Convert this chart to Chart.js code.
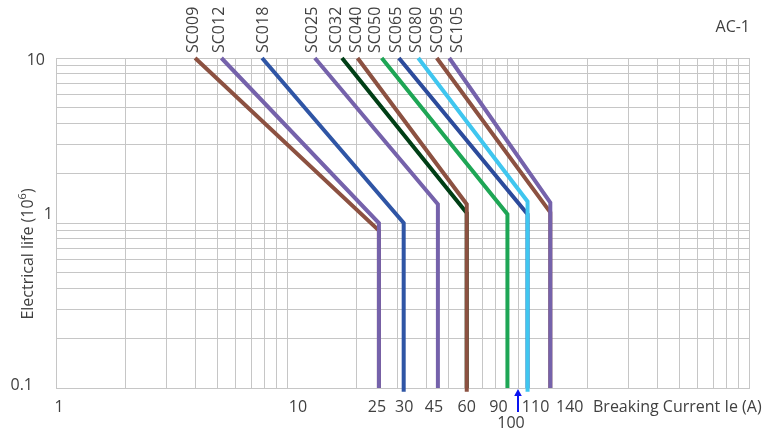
<!DOCTYPE html>
<html><head><meta charset="utf-8">
<script src="https://cdn.jsdelivr.net/npm/chart.js@4/dist/chart.umd.min.js"></script>
<style>html,body{margin:0;padding:0;background:#fff}canvas{display:block}</style>
</head><body>
<canvas id="c" width="782" height="432"></canvas>
<script>
// ---- data ----
const seriesNames = ['SC009','SC012','SC018','SC025','SC032','SC040','SC050','SC065','SC080','SC095','SC105'];
const startCurrent = [4.0, 5.2, 7.8, 13.2, 17.3, 20.2, 25.7, 30.5, 37.0, 44.5, 50.4];
const startLife    = [10, 10, 10, 10, 10, 10, 10, 10, 10, 10, 10];
const kneeCurrent  = [25, 25, 32, 45, 60, 60, 90, 110, 110, 138, 138];
const kneeLife     = [0.9, 1.0, 1.0, 1.3, 1.15, 1.3, 1.13, 1.13, 1.35, 1.16, 1.33];
const endLife      = [0.1, 0.1, 0.095, 0.1, 0.1, 0.095, 0.1, 0.1, 0.095, 0.1, 0.1];
const xTickValues  = [1, 10, 25, 30, 45, 60, 90, 110, 140];
const xTickLabels  = ['1','10','25','30','45','60','90','110','140'];
const yTickValues  = [10, 1, 0.1];
const yTickLabels  = ['10','1','0.1'];
const markerValue  = 100;
const markerLabel  = '100';
const xTitle = 'Breaking Current Ie (A)';
const yTitle = 'Electrical life (10';
const yTitleSup = '6';
const cornerTitle = 'AC-1';

// ---- styles ----
const BROWN='#8C5141', PURPLE='#7562AB', BLUE='#2F55A5', DKGREEN='#003F16', GREEN='#1EA655', DKBLUE='#2C4B9C', LTBLUE='#3FC6EF';
const seriesColors = [BROWN, PURPLE, BLUE, PURPLE, DKGREEN, BROWN, GREEN, DKBLUE, LTBLUE, BROWN, PURPLE];
const nameOffsets = [-2, -2, 1.5, -2, -6, -1, -6, -2.5, -1.5, 1, 8];
const xLabelOffsets = [3, 11, -2, 7, -4, 0, -9, 8, 18];
const yLabelStyle = [{right:45, dy:7}, {right:53, dy:-4}, {right:33, dy:2}];
const GRID = '#C6C6C6';
const TEXT = '#404040';
const FONT = '"Open Sans", "Liberation Sans", sans-serif';

function logGrid(minExp, maxExp){
  const t=[];
  for(let e=minExp;e<maxExp;e++){ for(let m=1;m<10;m++){ t.push({value:Number((m*Math.pow(10,e)).toPrecision(6))}); } }
  t.push({value:Math.pow(10,maxExp)});
  return t;
}

const datasets = seriesNames.map((name,i)=>({
  label:name,
  data:[{x:startCurrent[i],y:startLife[i]},{x:kneeCurrent[i],y:kneeLife[i]},{x:kneeCurrent[i],y:endLife[i]}],
  borderColor:seriesColors[i], backgroundColor:seriesColors[i],
  borderWidth:4, pointRadius:0, pointHoverRadius:0, showLine:true, fill:false, tension:0,
  borderCapStyle:'butt', borderJoinStyle:'miter', clip:false, order:seriesNames.length-i
}));

const textPlugin = {
  id:'textPlugin',
  afterDraw(chart){
    const ctx=chart.ctx, xs=chart.scales.x, ys=chart.scales.y, a=chart.chartArea;
    ctx.save();
    ctx.fillStyle=TEXT;
    ctx.font='16px '+FONT;
    // x tick labels
    ctx.textAlign='center'; ctx.textBaseline='alphabetic';
    xTickValues.forEach((v,i)=>{ ctx.fillText(xTickLabels[i], xs.getPixelForValue(v)+xLabelOffsets[i], a.bottom+24); });
    // x title
    ctx.textAlign='left';
    ctx.fillText(xTitle, a.right-156, a.bottom+24);
    // marker arrow + label
    const mx = Math.round(xs.getPixelForValue(markerValue));
    ctx.strokeStyle='#0A14F0'; ctx.fillStyle='#0A14F0'; ctx.lineWidth=2;
    ctx.beginPath(); ctx.moveTo(mx, a.bottom+7); ctx.lineTo(mx, a.bottom+24); ctx.stroke();
    ctx.beginPath(); ctx.moveTo(mx, a.bottom+1); ctx.lineTo(mx-3.8, a.bottom+8); ctx.lineTo(mx+3.8, a.bottom+8); ctx.closePath(); ctx.fill();
    ctx.fillStyle=TEXT; ctx.textAlign='center';
    ctx.fillText(markerLabel, mx-7, a.bottom+40);
    // y tick labels
    ctx.textAlign='right';
    yTickValues.forEach((v,i)=>{ ctx.fillText(yTickLabels[i], yLabelStyle[i].right, ys.getPixelForValue(v)+yLabelStyle[i].dy); });
    // corner title
    ctx.fillText(cornerTitle, a.right+1, 32);
    // series names (rotated, reading bottom to top, ending above the plot)
    ctx.textAlign='left'; ctx.textBaseline='middle';
    seriesNames.forEach((n,i)=>{
      const px = xs.getPixelForValue(startCurrent[i]) + nameOffsets[i];
      ctx.save(); ctx.translate(px, a.top-5); ctx.rotate(-Math.PI/2); ctx.fillText(n,0,0); ctx.restore();
    });
    // y title with superscript
    ctx.textAlign='left'; ctx.textBaseline='alphabetic';
    ctx.font='16px '+FONT; const w1=ctx.measureText(yTitle).width; const w3=ctx.measureText(')').width;
    ctx.font='11px '+FONT; const w2=ctx.measureText(yTitleSup).width;
    const total=w1+w2+w3;
    const cy=(a.top+a.bottom)/2+31;
    ctx.save(); ctx.translate(33, cy+total/2); ctx.rotate(-Math.PI/2);
    ctx.font='16px '+FONT; ctx.fillText(yTitle,0,0);
    ctx.font='11px '+FONT; ctx.fillText(yTitleSup,w1,-7);
    ctx.font='16px '+FONT; ctx.fillText(')',w1+w2,0);
    ctx.restore();
    ctx.restore();
  }
};

new Chart(document.getElementById('c'), {
  type:'scatter',
  data:{datasets},
  options:{
    responsive:false, animation:false, devicePixelRatio:1,
    layout:{padding:{left:56, top:58, right:33, bottom:44}},
    plugins:{legend:{display:false}, tooltip:{enabled:false}},
    scales:{
      x:{type:'logarithmic', min:1, max:1000,
         afterBuildTicks:s=>{s.ticks=logGrid(0,3);},
         ticks:{display:false}, grid:{color:GRID, lineWidth:1, drawTicks:false},
         border:{color:GRID, width:1}, afterFit:s=>{s.height=0;}},
      y:{type:'logarithmic', min:0.1, max:10,
         afterBuildTicks:s=>{s.ticks=logGrid(-1,1);},
         ticks:{display:false}, grid:{color:GRID, lineWidth:1, drawTicks:false},
         border:{color:GRID, width:1}, afterFit:s=>{s.width=0;}}
    }
  },
  plugins:[textPlugin]
});
</script>
</body></html>
